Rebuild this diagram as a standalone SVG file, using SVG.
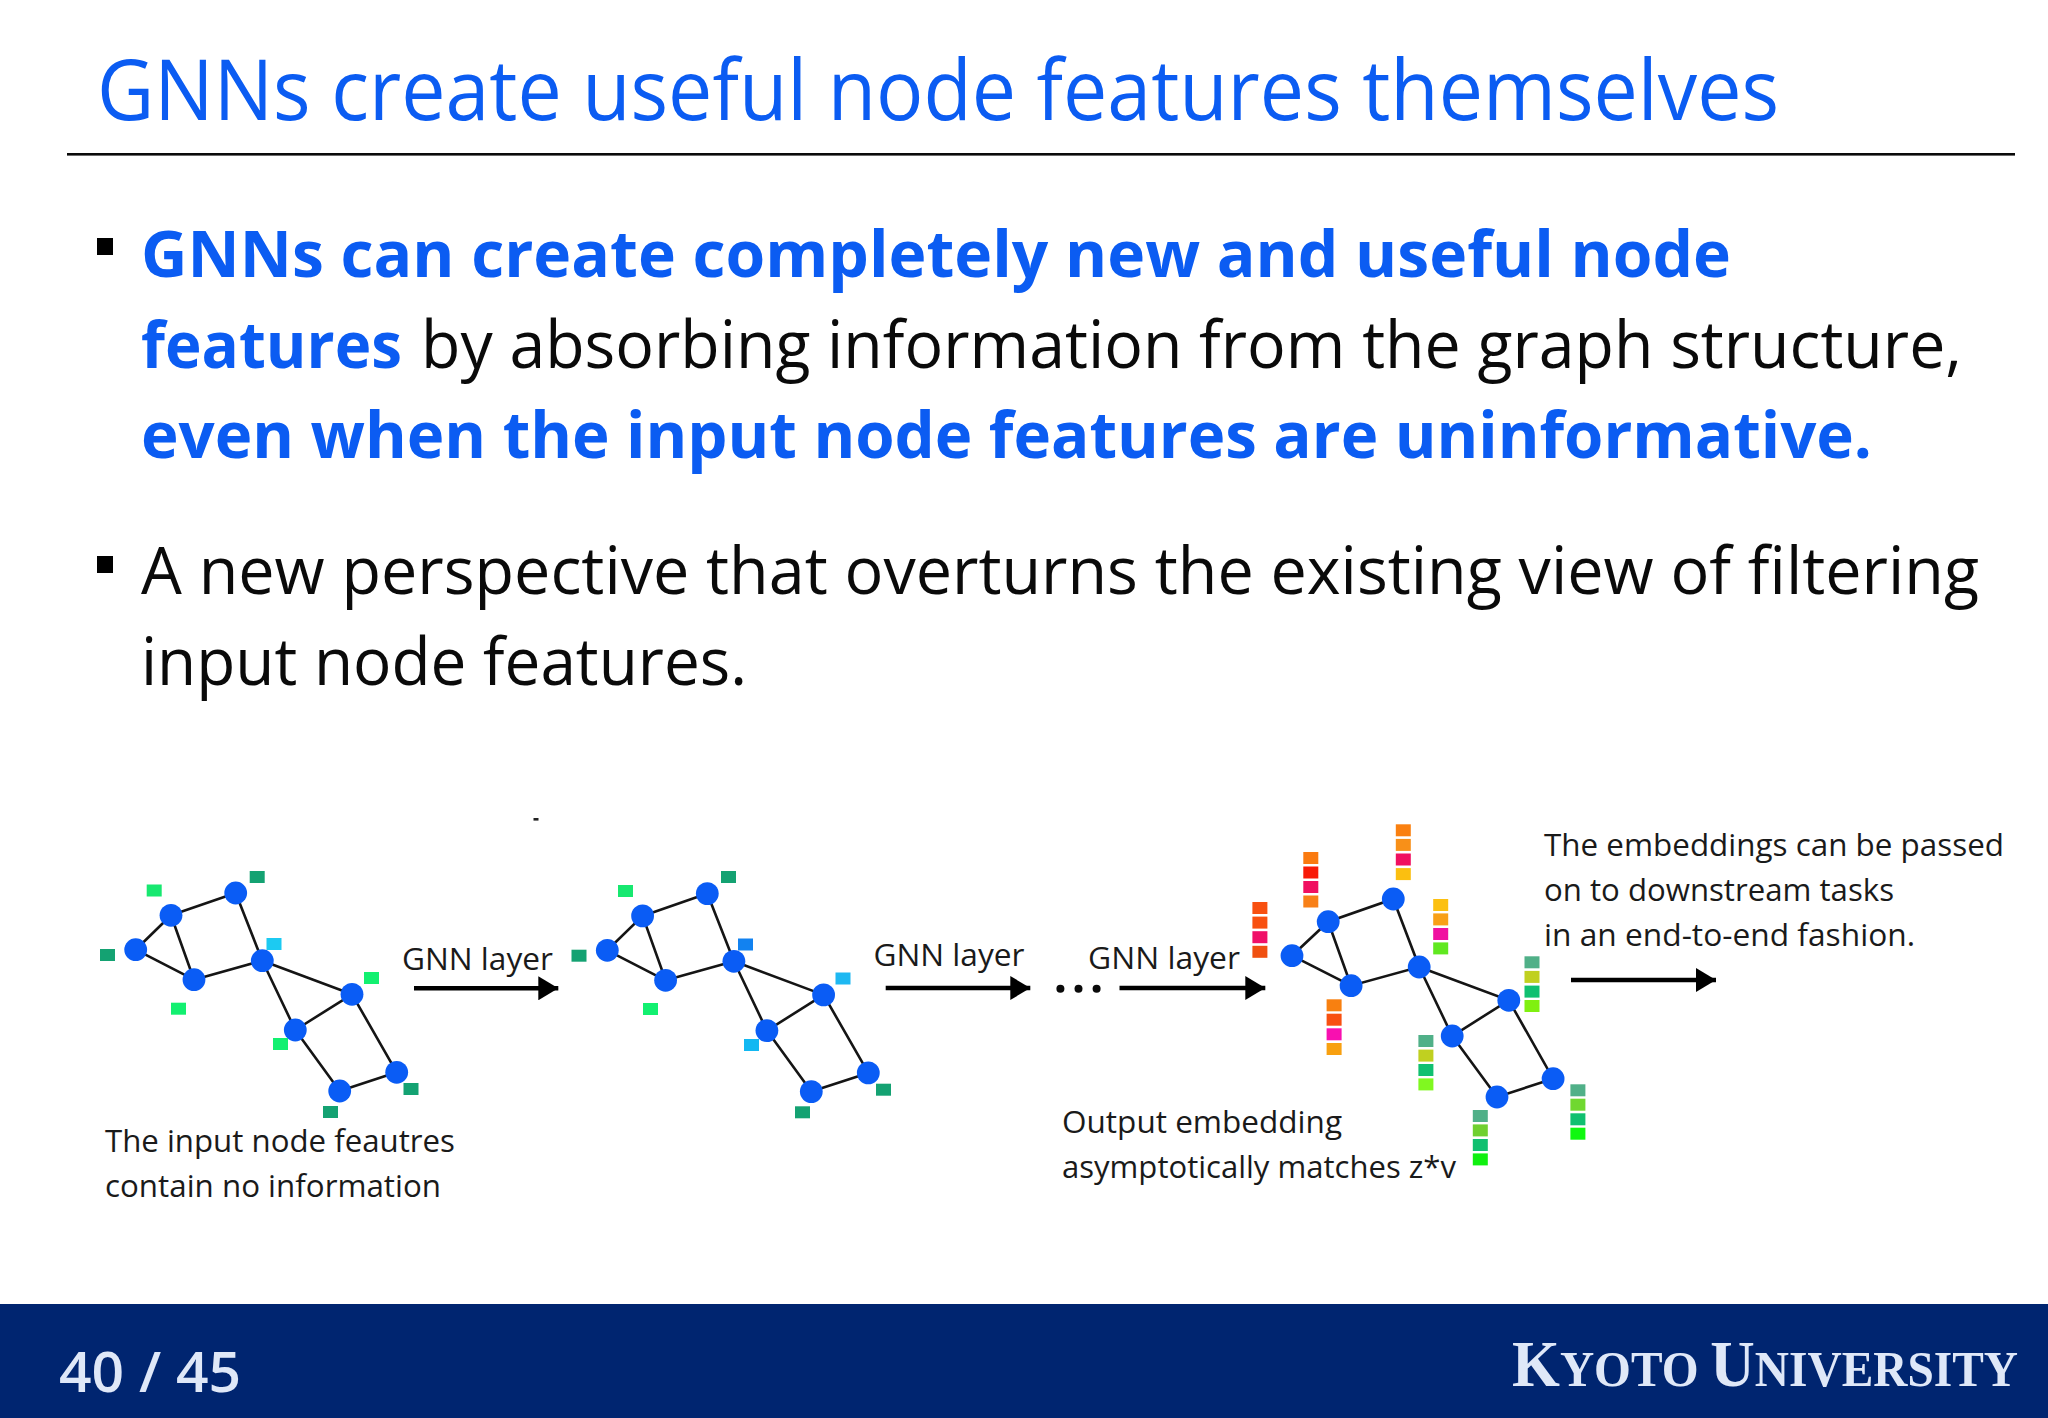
<svg xmlns="http://www.w3.org/2000/svg" xmlns:xlink="http://www.w3.org/1999/xlink" width="2048" height="1418" viewBox="0 0 2048 1418">
<style>
text{font-family:"Open Sans","Noto Sans","Liberation Sans",sans-serif;fill:#0a0a0a}
.title{font-size:84px;fill:#0b5cf2}
.b{font-size:65px}
.bb{font-size:65px;font-weight:700;fill:#0b5cf2}
.s{font-size:31px;fill:#1a1a1a}
.e{stroke:#151515;stroke-width:2.6;fill:none}
.n{fill:#0a5cf5}
.c{stroke:#000;stroke-width:4.4;fill:none;marker-end:url(#ah)}
.foot{fill:#dfe8f8}
</style>
<defs>
<marker id="ah" markerUnits="userSpaceOnUse" markerWidth="21" markerHeight="24" refX="20" refY="12" orient="auto"><path d="M0 0L20 12L0 24Z" fill="#000"/></marker>
<g id="edges"><path class="e" d="M0 0L35.3-34.4M35.3-34.4L100-56.7M35.3-34.4L58.3 30M0 0L58.3 30M100-56.7L126.6 11M58.3 30L126.6 11M126.6 11L216.3 44.6M126.6 11L159.6 80.3M216.3 44.6L159.6 80.3M216.3 44.6L261 122.6M159.6 80.3L204 141.3M261 122.6L204 141.3"/></g>
<g id="nodes"><circle class="n" cx="0" cy="0" r="11.4"/><circle class="n" cx="35.3" cy="-34.4" r="11.4"/><circle class="n" cx="100" cy="-56.7" r="11.4"/><circle class="n" cx="126.6" cy="11" r="11.4"/><circle class="n" cx="58.3" cy="30" r="11.4"/><circle class="n" cx="216.3" cy="44.6" r="11.4"/><circle class="n" cx="159.6" cy="80.3" r="11.4"/><circle class="n" cx="261" cy="122.6" r="11.4"/><circle class="n" cx="204" cy="141.3" r="11.4"/></g>
</defs>
<rect width="2048" height="1418" fill="#fff"/>
<g id="header">
<text class="title" x="97" y="120" textLength="1682" lengthAdjust="spacingAndGlyphs">GNNs create useful node features themselves</text>
<rect x="67" y="153" width="1948" height="2.6" fill="#0a0a0a"/>
</g>
<g id="body">
<rect x="97" y="238" width="16" height="17" fill="#000"/>
<text class="bb" x="141" y="276.5" textLength="1590" lengthAdjust="spacingAndGlyphs">GNNs can create completely new and useful node</text>
<text class="bb" x="141" y="367.5" textLength="261" lengthAdjust="spacingAndGlyphs">features</text>
<text class="b" x="421" y="367.5" textLength="1541" lengthAdjust="spacingAndGlyphs">by absorbing information from the graph structure,</text>
<text class="bb" x="141" y="458" textLength="1731" lengthAdjust="spacingAndGlyphs">even when the input node features are uninformative.</text>
<rect x="97" y="556" width="16" height="17" fill="#000"/>
<text class="b" x="141" y="594" textLength="1838" lengthAdjust="spacingAndGlyphs">A new perspective that overturns the existing view of filtering</text>
<text class="b" x="141" y="685" textLength="606" lengthAdjust="spacingAndGlyphs">input node features.</text>
</g>
<g id="connectors">
<path class="c" d="M414 988.3H558.3"/>
<path class="c" d="M885.7 988H1030.3"/>
<path class="c" d="M1119.5 988H1265.3"/>
<path class="c" d="M1571 980H1716"/>
</g>
<g id="ellipsis" fill="#0a0a0a"><circle cx="1060.4" cy="988.7" r="4"/><circle cx="1078.5" cy="988.7" r="4"/><circle cx="1096.6" cy="988.7" r="4"/></g>
<rect id="speck" x="533.5" y="818" width="5" height="2.6" fill="#222"/>
<g id="graph-input">
<use xlink:href="#edges" href="#edges" transform="translate(135.7 949.7)"/>
<use xlink:href="#nodes" href="#nodes" transform="translate(135.7 949.7)"/>
<g id="input-features">
<rect x="146.7" y="884.5" width="15" height="12" fill="#17e870"/>
<rect x="249.7" y="871" width="15" height="12" fill="#14a272"/>
<rect x="100" y="949" width="15" height="12" fill="#14a272"/>
<rect x="266.5" y="938" width="15" height="12" fill="#1ccaf2"/>
<rect x="364" y="972" width="15" height="12" fill="#12f070"/>
<rect x="171" y="1002.7" width="15" height="12" fill="#12f070"/>
<rect x="273" y="1038" width="15" height="12" fill="#12f070"/>
<rect x="403.5" y="1083" width="15" height="12" fill="#14a272"/>
<rect x="323" y="1106" width="15" height="12" fill="#14a272"/>
</g>
</g>
<g id="graph-middle">
<use xlink:href="#edges" href="#edges" transform="translate(607.3 950.3)"/>
<use xlink:href="#nodes" href="#nodes" transform="translate(607.3 950.3)"/>
<g id="middle-features">
<rect x="618" y="885" width="15" height="12" fill="#17e870"/>
<rect x="721" y="871" width="15" height="12" fill="#14a272"/>
<rect x="571.5" y="949.7" width="15" height="12" fill="#14a272"/>
<rect x="738" y="938.5" width="15" height="12" fill="#1282f0"/>
<rect x="835.5" y="972.5" width="15" height="12" fill="#1eb8f2"/>
<rect x="643" y="1003" width="15" height="12" fill="#12f070"/>
<rect x="744" y="1039" width="15" height="12" fill="#12b8f2"/>
<rect x="876" y="1083.7" width="15" height="12" fill="#14a272"/>
<rect x="795" y="1106.3" width="15" height="12" fill="#14a272"/>
</g>
</g>
<g id="graph-output">
<path class="e" d="M1292 955.7L1328.2 921.7L1393.3 899L1419.2 967L1351.1 985.7L1292 955.7M1328.2 921.7L1351.1 985.7M1419.2 967L1508.8 1000.3L1452.2 1036L1419.2 967M1508.8 1000.3L1553.1 1078.7L1497 1097L1452.2 1036"/>
<g class="n"><circle cx="1292" cy="955.7" r="11.4"/><circle cx="1328.2" cy="921.7" r="11.4"/><circle cx="1393.3" cy="899" r="11.4"/><circle cx="1419.2" cy="967" r="11.4"/><circle cx="1351.1" cy="985.7" r="11.4"/><circle cx="1508.8" cy="1000.3" r="11.4"/><circle cx="1452.2" cy="1036" r="11.4"/><circle cx="1553.1" cy="1078.7" r="11.4"/><circle cx="1497" cy="1097" r="11.4"/></g>
<g id="embeddings">
<g transform="translate(1252.4 902)"><rect width="15" height="12" fill="#f85010"/><rect y="14.6" width="15" height="12" fill="#f85010"/><rect y="29.2" width="15" height="12" fill="#f01068"/><rect y="43.8" width="15" height="12" fill="#f05010"/></g>
<g transform="translate(1303.3 852)"><rect width="15" height="12" fill="#fa7a10"/><rect y="14.5" width="15" height="12" fill="#f81a08"/><rect y="29" width="15" height="12" fill="#f01060"/><rect y="43.5" width="15" height="12" fill="#f88018"/></g>
<g transform="translate(1395.8 824.3)"><rect width="15" height="12" fill="#fa8010"/><rect y="14.6" width="15" height="12" fill="#f89018"/><rect y="29.2" width="15" height="12" fill="#f01060"/><rect y="43.8" width="15" height="12" fill="#fbbf10"/></g>
<g transform="translate(1433.2 899)"><rect width="15" height="12" fill="#fcc010"/><rect y="14.4" width="15" height="12" fill="#f8a018"/><rect y="29" width="15" height="12" fill="#f010a0"/><rect y="43.4" width="15" height="12" fill="#60e820"/></g>
<g transform="translate(1326.6 999.3)"><rect width="15" height="12" fill="#f88010"/><rect y="14.4" width="15" height="12" fill="#f85010"/><rect y="29" width="15" height="12" fill="#f810b0"/><rect y="43.7" width="15" height="12" fill="#f8a010"/></g>
<g transform="translate(1524.5 956.3)"><rect width="15" height="12" fill="#50b088"/><rect y="14.6" width="15" height="12" fill="#c0d020"/><rect y="29.3" width="15" height="12" fill="#10c070"/><rect y="43.7" width="15" height="12" fill="#80f010"/></g>
<g transform="translate(1418.4 1035)"><rect width="15" height="12" fill="#50b088"/><rect y="14.6" width="15" height="12" fill="#c0d020"/><rect y="29" width="15" height="12" fill="#10c070"/><rect y="43.4" width="15" height="12" fill="#80f820"/></g>
<g transform="translate(1472.8 1110)"><rect width="15" height="12" fill="#50b088"/><rect y="14.4" width="15" height="12" fill="#70d030"/><rect y="29" width="15" height="12" fill="#10c070"/><rect y="43.4" width="15" height="12" fill="#10f010"/></g>
<g transform="translate(1570.4 1084.3)"><rect width="15" height="12" fill="#50b088"/><rect y="14.4" width="15" height="12" fill="#70d830"/><rect y="29" width="15" height="12" fill="#10c070"/><rect y="43.4" width="15" height="12" fill="#10f810"/></g>
</g>
</g>
<g id="labels">
<text class="s" x="402" y="970" textLength="151" lengthAdjust="spacingAndGlyphs">GNN layer</text>
<text class="s" x="873.5" y="966" textLength="151" lengthAdjust="spacingAndGlyphs">GNN layer</text>
<text class="s" x="1088" y="969" textLength="152" lengthAdjust="spacingAndGlyphs">GNN layer</text>
<text class="s" x="105" y="1152" textLength="350" lengthAdjust="spacingAndGlyphs">The input node feautres</text>
<text class="s" x="105" y="1197" textLength="336" lengthAdjust="spacingAndGlyphs">contain no information</text>
<text class="s" x="1062" y="1133" textLength="280" lengthAdjust="spacingAndGlyphs">Output embedding</text>
<text class="s" x="1062" y="1178" textLength="394" lengthAdjust="spacingAndGlyphs">asymptotically matches z*v</text>
<text class="s" x="1544" y="856" textLength="460" lengthAdjust="spacingAndGlyphs">The embeddings can be passed</text>
<text class="s" x="1544" y="901" textLength="350" lengthAdjust="spacingAndGlyphs">on to downstream tasks</text>
<text class="s" x="1544" y="946" textLength="371" lengthAdjust="spacingAndGlyphs">in an end-to-end fashion.</text>
</g>
<g id="footer">
<rect x="0" y="1304" width="2048" height="114" fill="#002570"/>
<text class="foot" x="59" y="1392" font-size="56" font-weight="600" textLength="182" lengthAdjust="spacingAndGlyphs">40 / 45</text>
<text class="foot" x="1512" y="1386" font-weight="700" textLength="506" lengthAdjust="spacingAndGlyphs" style="font-family:'Liberation Serif',serif"><tspan font-size="65">K</tspan><tspan font-size="50">YOTO </tspan><tspan font-size="65">U</tspan><tspan font-size="50">NIVERSITY</tspan></text>
</g>
</svg>
